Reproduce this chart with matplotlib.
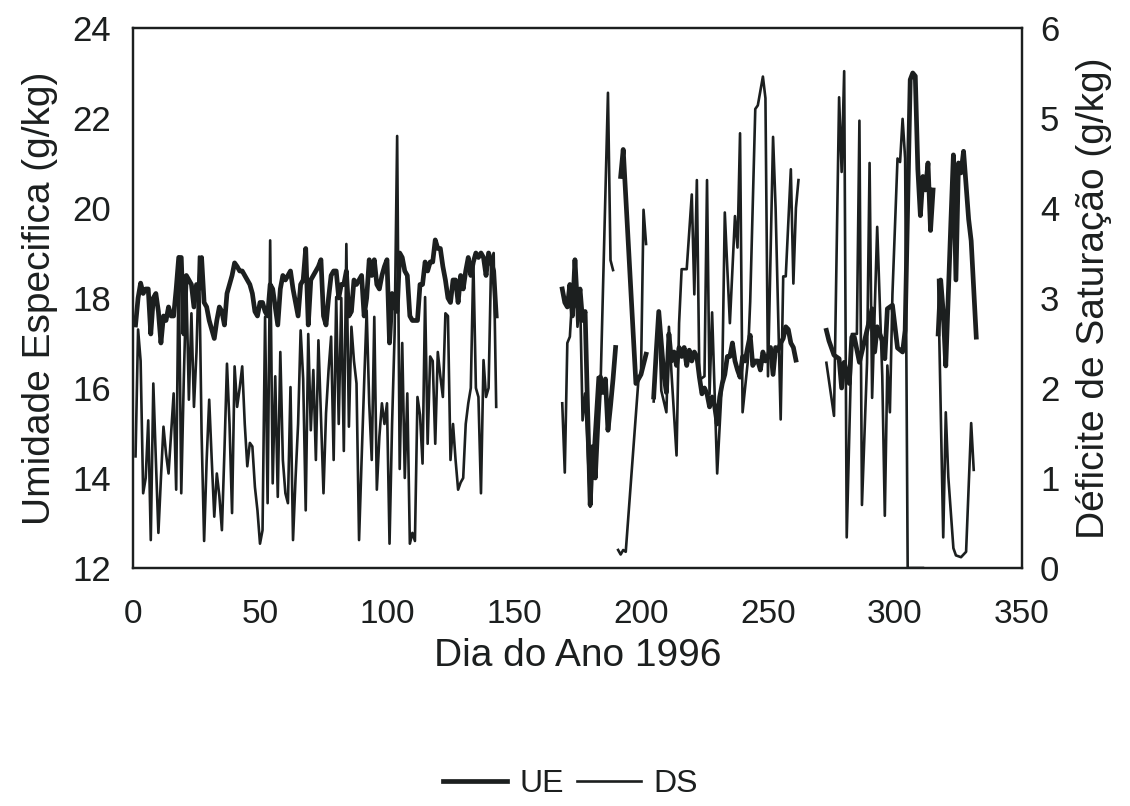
import numpy as np
import matplotlib.pyplot as plt
from matplotlib.lines import Line2D

# Umidade especifica (UE, g/kg) - eixo esquerdo
# dias 1..143, um valor por dia
ue_seg1 = [17.4, 18.0, 18.33, 18.1, 18.2, 18.2, 17.2, 18.0, 18.1, 17.7,
           17.0, 17.6, 17.5, 17.8, 17.6, 17.6, 18.2, 18.9, 18.9, 17.2,
           18.5, 18.4, 18.3, 17.8, 18.3, 18.2, 18.9, 17.9, 17.8, 17.5,
           17.3, 17.1, 17.5, 17.8, 17.7, 17.4, 18.1, 18.3, 18.5, 18.78,
           18.7, 18.6, 18.6, 18.5, 18.4, 18.3, 18.1, 17.7, 17.6, 17.9,
           17.9, 17.7, 17.6, 18.3, 18.2, 17.8, 17.4, 18.2, 18.5, 18.4,
           18.5, 18.6, 18.2, 17.9, 17.6, 18.3, 18.4, 19.1, 17.4, 18.4,
           18.5, 18.6, 18.7, 18.85, 17.6, 17.4, 18.0, 18.5, 18.6, 18.6,
           18.0, 18.3, 18.3, 18.6, 17.6, 17.7, 18.4, 18.3, 18.4, 18.5,
           17.6, 18.0, 18.85, 18.5, 18.85, 18.3, 18.2, 18.5, 18.7, 18.85,
           17.0, 18.1, 17.8, 17.7, 19.0, 18.9, 18.6, 18.5, 17.6, 17.5,
           17.5, 17.5, 18.3, 18.3, 18.8, 18.6, 18.8, 18.8, 19.29, 19.1,
           19.1, 18.7, 18.4, 18.0, 17.9, 18.4, 18.4, 17.9, 18.5, 18.2,
           18.6, 18.9, 18.5, 18.8, 19.0, 18.9, 19.0, 18.9, 18.5, 19.0,
           18.8, 18.6, 17.6]
ue_seg2_days = list(range(169, 191))
ue_seg2 = [18.2, 17.9, 17.8, 18.3, 17.6, 18.85, 17.8, 18.2, 17.5, 17.7,
           15.5, 13.4, 14.7, 14.0, 15.2, 16.25, 15.9, 16.2, 15.06, 15.6,
           16.2, 16.9]
ue_seg3_days = [192, 193, 198, 200, 202]
ue_seg3 = [20.7, 21.3, 16.1, 16.3, 16.75]
ue_seg4_days = list(range(205, 262))
ue_seg4 = [15.8, 16.8, 17.7, 17.0, 16.3, 15.9, 17.2, 16.6, 16.8, 16.5,
           16.9, 16.7, 16.9, 16.5, 16.84, 16.6, 16.8, 16.7, 16.24, 15.87,
           16.0, 15.87, 15.58, 15.8, 15.6, 15.2, 15.8, 16.1, 16.3, 16.7,
           16.7, 17.0, 16.6, 16.4, 16.24, 16.7, 16.6, 16.9, 17.17, 16.5,
           16.6, 16.6, 16.4, 16.8, 16.6, 16.7, 16.9, 16.3, 16.9, 16.84,
           17.0, 17.1, 17.36, 17.3, 17.0, 16.9, 16.62]
ue_seg5_days = [273, 274, 276, 278, 279, 280, 282, 283, 284, 286, 288, 289,
                291, 292, 293, 295, 296, 297, 299, 301, 303, 304, 306, 307,
                308, 309, 310, 311, 312, 313, 314, 315]
ue_seg5 = [17.28, 17.05, 16.73, 16.65, 16.0, 16.57, 16.1, 17.13, 17.13,
           16.57, 17.05, 17.28, 17.76, 16.8, 17.36, 17.05, 16.65, 17.76,
           17.84, 16.89, 16.8, 17.28, 22.85, 23.0, 22.93, 20.86, 19.83,
           20.7, 20.4, 21.0, 19.5, 20.4]
ue_seg6_days = [317, 318, 319, 320, 322, 323, 324, 325, 326, 327, 329, 330, 332]
ue_seg6 = [17.2, 18.4, 17.68, 16.49, 19.67, 21.18, 18.4, 21.0, 20.78,
           21.26, 19.75, 19.27, 17.13]

# Deficite de saturacao (DS, g/kg) - eixo direito
ds_seg1 = [1.24, 2.65, 2.3, 0.83, 1.0, 1.64, 0.31, 2.05, 1.2, 0.39,
           1.0, 1.57, 1.27, 1.05, 1.5, 1.94, 0.87, 3.46, 0.83, 2.1,
           3.16, 1.87, 2.83, 1.79, 2.4, 3.46, 1.5, 0.3, 1.2, 1.87,
           1.2, 0.57, 1.05, 0.8, 0.42, 1.3, 2.27, 1.6, 0.61, 2.24,
           1.79, 2.0, 2.24, 1.6, 1.13, 1.39, 1.35, 0.9, 0.64, 0.27,
           0.42, 2.79, 0.72, 3.64, 0.94, 2.13, 0.79, 2.4, 1.2, 0.83,
           0.72, 2.01, 0.31, 1.0, 1.6, 2.64, 2.1, 0.64, 2.6, 1.53,
           2.2, 1.2, 2.53, 1.68, 0.83, 1.72, 2.2, 2.57, 1.2, 3.01,
           1.6, 3.0, 1.3, 3.6, 1.57, 2.68, 2.3, 2.05, 0.31, 1.2,
           2.05, 2.86, 1.83, 1.2, 2.79, 0.87, 1.46, 1.83, 1.6, 1.83,
           0.27, 1.6, 2.6, 4.8, 1.1, 2.5, 1.0, 1.94, 0.27, 0.39,
           0.3, 1.9, 1.7, 1.16, 3.01, 1.38, 2.35, 2.3, 1.38, 2.4,
           2.13, 1.9, 2.83, 2.8, 1.2, 1.6, 1.2, 0.87, 0.95, 1.0,
           1.6, 1.83, 2.0, 3.42, 2.0, 1.9, 0.83, 2.31, 1.9, 2.0,
           3.42, 3.5, 1.79]
ds_seg2_days = [169, 170, 171, 172, 173, 174, 175, 176, 177, 178, 180, 181,
                183, 184, 187, 188, 189]
ds_seg2 = [1.83, 1.06, 2.5, 2.57, 3.05, 3.35, 2.68, 3.05, 1.64, 1.94, 0.68,
           1.2, 2.12, 1.94, 5.28, 3.42, 3.31]
ds_seg3_days = [191, 192, 193, 194, 199, 200, 201, 202]
ds_seg3 = [0.2, 0.15, 0.2, 0.18, 2.09, 2.15, 3.98, 3.6]
ds_seg4_days = [205, 207, 208, 210, 211, 212, 214, 215, 216, 218, 220, 221,
                222, 223, 225, 226, 227, 228, 230, 232, 233, 234, 235, 237,
                238, 239, 240, 242, 243, 245, 246, 248, 249, 250, 252, 253,
                255, 256, 257, 259, 260, 261, 262]
ds_seg4 = [1.85, 2.84, 1.97, 1.73, 2.68, 2.17, 1.25, 2.72, 3.32, 3.32, 4.15,
           3.04, 4.31, 2.09, 2.13, 4.31, 1.93, 2.84, 1.05, 2.13, 3.95, 3.32,
           2.72, 3.91, 3.56, 4.83, 1.73, 2.28, 2.96, 5.1, 5.14, 5.46, 5.22,
           2.13, 4.79, 4.0, 1.65, 3.24, 3.24, 4.43, 3.16, 4.0, 4.31]
ds_seg5_days = [273, 276, 278, 279, 280, 281, 283, 285, 286, 287, 289, 290,
                291, 293, 295, 296, 297, 298, 299, 301, 302, 303, 304, 305, 311]
ds_seg5 = [2.28, 1.69, 5.23, 4.4, 5.52, 0.34, 2.6, 2.6, 4.97, 0.7, 2.28, 4.5,
           1.89, 3.79, 2.13, 0.58, 2.25, 1.73, 3.04, 4.55, 4.51, 4.99, 4.55,
           0.0, 0.0]
ds_seg6_days = [317, 319, 320, 321, 323, 324, 326, 328, 330, 331]
ds_seg6 = [3.2, 0.34, 1.73, 1.01, 0.22, 0.14, 0.12, 0.18, 1.61, 1.09]


def join_segments(segs):
    # junta os trechos com NaN entre eles para deixar as falhas
    xs, ys = [], []
    for d, v in segs:
        xs += list(d) + [np.nan]
        ys += list(v) + [np.nan]
    return np.array(xs, float), np.array(ys, float)


seg1_days = list(range(1, 1 + len(ue_seg1)))
ue_x, ue_y = join_segments([(seg1_days, ue_seg1), (ue_seg2_days, ue_seg2),
                            (ue_seg3_days, ue_seg3), (ue_seg4_days, ue_seg4),
                            (ue_seg5_days, ue_seg5), (ue_seg6_days, ue_seg6)])
ds_x, ds_y = join_segments([(seg1_days, ds_seg1), (ds_seg2_days, ds_seg2),
                            (ds_seg3_days, ds_seg3), (ds_seg4_days, ds_seg4),
                            (ds_seg5_days, ds_seg5), (ds_seg6_days, ds_seg6)])

plt.rcParams['font.family'] = ['Liberation Sans', 'DejaVu Sans']
ink = '#1c1f1f'

fig = plt.figure(figsize=(11.3, 8.06), dpi=100)
ax = fig.add_axes([0.1177, 0.2953, 0.7867, 0.67])
ax2 = ax.twinx()

ax.plot(ue_x, ue_y, color=ink, lw=3.4)
ax2.plot(ds_x, ds_y, color=ink, lw=1.9)

ax.set_xlim(0, 350)
ax.set_ylim(12, 24)
ax2.set_ylim(0, 6)
ax.set_xticks(range(0, 351, 50))
ax.set_yticks(range(12, 25, 2))
ax2.set_yticks(range(0, 7))

ax.tick_params(axis='x', length=0, labelsize=24, pad=22, colors=ink)
ax.tick_params(axis='y', length=0, labelsize=25, pad=16, colors=ink)
ax2.tick_params(axis='y', length=0, labelsize=25, pad=13, colors=ink)
for a in (ax, ax2):
    for s in a.spines.values():
        s.set_linewidth(1.6)
        s.set_color(ink)

ax.set_xlabel('Dia do Ano 1996', fontsize=28, color=ink, labelpad=6)
ax.set_ylabel('Umidade Especifica (g/kg)', fontsize=28, color=ink, labelpad=10)
ax2.set_ylabel('Déficite de Saturação (g/kg)', fontsize=28, color=ink, labelpad=12)

handles = [Line2D([], [], color=ink, lw=3.4), Line2D([], [], color=ink, lw=1.9)]
fig.legend(handles, ['UE', 'DS'], loc='center', bbox_to_anchor=(0.505, 0.027),
           ncol=2, frameon=False, fontsize=23, handlelength=2.0,
           handletextpad=0.4, columnspacing=0.4, labelcolor=ink)

fig.savefig('out.png', dpi=100)
